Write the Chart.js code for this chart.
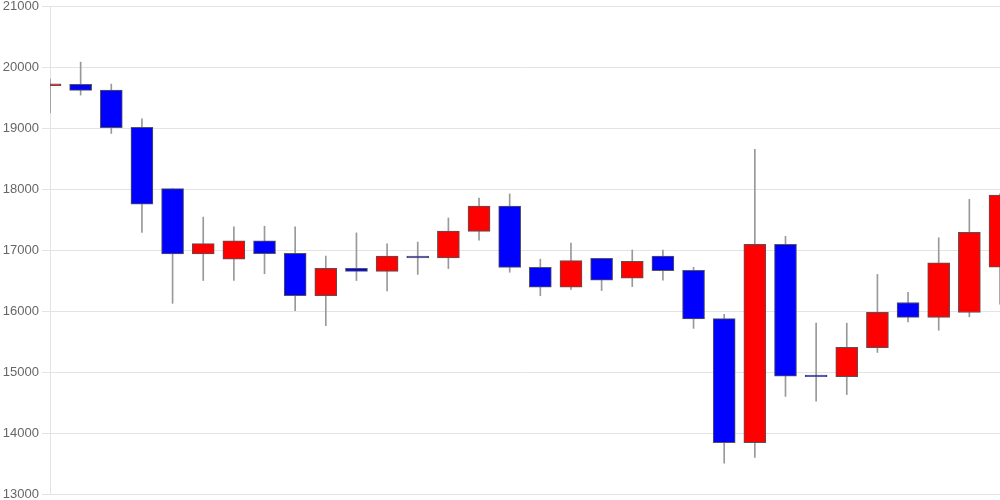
<!DOCTYPE html>
<html>
<head>
<meta charset="utf-8">
<script src="https://cdn.jsdelivr.net/npm/chart.js@4/dist/chart.umd.min.js"></script>
<style>
    html, body { margin: 0; padding: 0; background: #fff; }
    #wrap { width: 1000px; height: 500px; }
</style>
</head>
<body>
<div id="wrap"><canvas id="candles" width="1000" height="500"></canvas></div>
<script>
// ======= Daily candles =======
const days = ['1', '2', '3', '4', '5', '6', '7', '8', '9', '10', '11', '12', '13', '14', '15', '16',
              '17', '18', '19', '20', '21', '22', '23', '24', '25', '26', '27', '28', '29', '30', '31', '32'];
const opens  = [19695, 19716, 19620, 19010, 18005, 16935, 16850, 17150, 16945, 16250, 16700, 16650, 16900, 16870, 17305, 17720,
                16715, 16390, 16865, 16540, 16900, 16665, 15875, 13840, 17095, 14950, 14925, 15400, 16140, 15895, 15975, 16720];
const highs  = [19800, 20080, 19720, 19150, 18005, 17540, 17380, 17390, 17380, 16900, 17280, 17100, 17130, 17525, 17850, 17920,
                16850, 17115, 16865, 17000, 17000, 16715, 15945, 18650, 17225, 15800, 15800, 16600, 16305, 17200, 17830, 17920];
const lows   = [19250, 19540, 18910, 17290, 16125, 16500, 16500, 16610, 16005, 15760, 16500, 16330, 16600, 16695, 17160, 16635,
                16250, 16355, 16335, 16400, 16505, 15715, 13505, 13600, 14600, 14520, 14630, 15320, 15820, 15685, 15905, 16110];
const closes = [19725, 19618, 19005, 17750, 16935, 17105, 17150, 16940, 16250, 16700, 16650, 16900, 16870, 17310, 17720, 16715,
                16390, 16825, 16505, 16815, 16660, 15870, 13840, 17095, 14930, 14922, 15405, 15980, 15895, 16790, 17290, 17900];
const yTicks = { min: 13000, max: 21000, step: 1000 };

// ======= Colour per candle: red when it closes up, blue when down =======
function bodyColor(i) {
    return closes[i] >= opens[i] ? '#ff0000' : '#0000ff';
}

// ======= Build the chart =======
function buildCandles() {
    const ctx = document.getElementById('candles').getContext('2d');

    const wicks = days.map((d, i) => [lows[i], highs[i]]);
    const bodies = days.map((d, i) => [opens[i], closes[i]]);

    new Chart(ctx, {
        type: 'bar',
        data: {
            labels: days,
            datasets: [
                {
                    label: 'wick',
                    data: wicks,
                    backgroundColor: '#999999',
                    barThickness: 1,
                    grouped: false,
                    order: 2
                },
                {
                    label: 'body',
                    data: bodies,
                    backgroundColor: days.map((d, i) => bodyColor(i)),
                    borderColor: '#555555',
                    borderWidth: 1,
                    borderSkipped: false,
                    barThickness: 22,
                    grouped: false,
                    order: 1
                }
            ]
        },
        options: {
            responsive: false,
            animation: false,
            layout: { padding: 0 },
            plugins: {
                legend: { display: false },
                tooltip: { enabled: true }
            },
            scales: {
                x: {
                    display: false,
                    offset: false
                },
                y: {
                    min: yTicks.min,
                    max: yTicks.max,
                    ticks: {
                        stepSize: yTicks.step,
                        color: '#666666',
                        font: { family: "'Liberation Sans', Arial, sans-serif", size: 13 },
                        callback: v => String(v) // plain numbers, no thousands comma
                    },
                    grid: { color: '#e3e3e3' },
                    border: { color: '#e3e3e3' },
                    afterFit: scale => {
                        scale.width = 50;
                        scale.paddingTop = 6;
                        scale.paddingBottom = 6;
                    }
                }
            }
        }
    });
}

document.addEventListener('DOMContentLoaded', buildCandles);
</script>
</body>
</html>
